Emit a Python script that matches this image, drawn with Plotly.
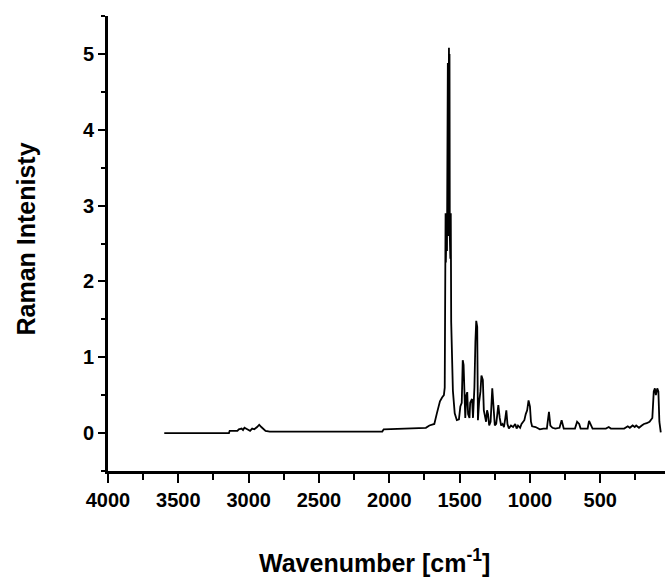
import plotly.graph_objects as go

# Raman spectrum (wavenumber in cm^-1, intensity)
wavenumber = [3600, 3140, 3135, 3080, 3070, 3050, 3040, 3030, 3010, 2990, 2975, 2960,
              2940, 2925, 2910, 2895, 2880, 2850, 2050, 2040, 1800, 1780, 1740, 1715,
              1680, 1662, 1650, 1640, 1625, 1612, 1606, 1604, 1602, 1600, 1598, 1596,
              1594, 1592, 1590, 1588, 1586, 1584, 1582, 1580, 1578, 1576, 1574, 1572,
              1570, 1566, 1563, 1560, 1548, 1535, 1520, 1505,
              1495, 1485, 1478, 1472, 1466, 1460, 1452, 1446, 1440, 1430, 1425, 1412,
              1405, 1395, 1388, 1382, 1375, 1370, 1362, 1352, 1345, 1335, 1328, 1320,
              1312, 1305, 1298, 1290, 1280, 1268, 1260, 1250, 1240, 1225, 1215, 1205,
              1195, 1185, 1175, 1168, 1160, 1150, 1135, 1120, 1105, 1095, 1085, 1070,
              1060, 1050, 1040, 1030, 1020, 1010, 1000, 993, 985, 960, 930, 905,
              880, 865, 855, 840, 820, 790, 775, 768, 760, 700, 680, 665,
              650, 640, 620, 590, 580, 565, 555, 460, 440, 425, 380, 330,
              305, 290, 270, 255, 245, 225, 205, 190, 170, 150, 130, 120,
              112, 105, 95, 87, 80, 70]
intensity = [0.00, 0.00, 0.03, 0.03, 0.05, 0.06, 0.04, 0.07, 0.05, 0.03, 0.06, 0.05,
             0.08, 0.11, 0.08, 0.05, 0.03, 0.02, 0.02, 0.05, 0.06, 0.07, 0.07, 0.10,
             0.12, 0.26, 0.35, 0.42, 0.47, 0.50, 0.60, 2.67, 2.20, 2.90, 2.25, 2.90,
             2.30, 2.90, 2.40, 4.88, 2.50, 4.88, 2.60, 4.95, 3.00, 5.08, 3.50, 5.00,
             2.60, 2.30, 2.90, 1.46, 0.56, 0.26, 0.17, 0.18,
             0.35, 0.40, 0.96, 0.90, 0.50, 0.20, 0.50, 0.54, 0.25, 0.20, 0.40, 0.45,
             0.20, 0.60, 1.20, 1.48, 1.40, 0.17, 0.40, 0.55, 0.76, 0.70, 0.30, 0.20,
             0.15, 0.30, 0.25, 0.10, 0.15, 0.59, 0.35, 0.10, 0.12, 0.37, 0.20, 0.10,
             0.12, 0.08, 0.20, 0.30, 0.12, 0.06, 0.10, 0.08, 0.12, 0.06, 0.10, 0.07,
             0.12, 0.15, 0.17, 0.25, 0.30, 0.43, 0.35, 0.15, 0.09, 0.08, 0.05, 0.06,
             0.06, 0.28, 0.10, 0.07, 0.06, 0.07, 0.17, 0.12, 0.06, 0.06, 0.06, 0.15,
             0.12, 0.06, 0.06, 0.06, 0.16, 0.10, 0.06, 0.06, 0.08, 0.06, 0.06, 0.06,
             0.09, 0.07, 0.10, 0.08, 0.10, 0.07, 0.10, 0.12, 0.13, 0.15, 0.20, 0.55,
             0.59, 0.50, 0.59, 0.55, 0.15, 0.01]

x_tickvals = [4000, 3500, 3000, 2500, 2000, 1500, 1000, 500]
x_ticktext = ["4000", "3500", "3000", "2500", "2000", "1500", "1000", "500"]
y_tickvals = [0, 1, 2, 3, 4, 5]
y_ticktext = ["0", "1", "2", "3", "4", "5"]

FONT = "Arial, Liberation Sans, sans-serif"

fig = go.Figure()
fig.add_trace(go.Scatter(x=wavenumber, y=intensity, mode="lines",
                         line=dict(color="black", width=1.8), showlegend=False))

fig.update_layout(
    width=665, height=578,
    margin=dict(l=108, r=0, t=16, b=107),
    paper_bgcolor="white", plot_bgcolor="white",
    font=dict(family=FONT, color="black"),
    xaxis=dict(
        range=[4000, 40], autorange=False,
        tickvals=x_tickvals, ticktext=x_ticktext,
        showline=True, linecolor="black", linewidth=3,
        ticks="outside", ticklen=9, tickwidth=2, tickcolor="black",
        minor=dict(dtick=250, tick0=0, ticks="outside", ticklen=6, tickwidth=2, tickcolor="black"),
        showgrid=False, zeroline=False,
        tickfont=dict(family=FONT, size=20, color="black", weight="bold"),
    ),
    yaxis=dict(
        range=[-0.5, 5.5], autorange=False,
        tickvals=y_tickvals, ticktext=y_ticktext,
        showline=True, linecolor="black", linewidth=3,
        ticks="outside", ticklen=7, tickwidth=2, tickcolor="black",
        minor=dict(dtick=0.5, tick0=0, ticks="outside", ticklen=4, tickwidth=2, tickcolor="black"),
        showgrid=False, zeroline=False,
        tickfont=dict(family=FONT, size=20, color="black", weight="bold"),
    ),
    annotations=[
        dict(text="Wavenumber [cm<sup>-1</sup>]", xref="paper", yref="paper",
             x=0.479, y=-0.197, xanchor="center", yanchor="middle", showarrow=False,
             font=dict(family=FONT, size=25, color="black", weight="bold")),
        dict(text="Raman Intenisty", xref="paper", yref="paper",
             x=-0.148, y=0.51, xanchor="center", yanchor="middle", showarrow=False,
             textangle=-90,
             font=dict(family=FONT, size=25, color="black", weight="bold")),
    ],
)

fig.write_html("out.html")
